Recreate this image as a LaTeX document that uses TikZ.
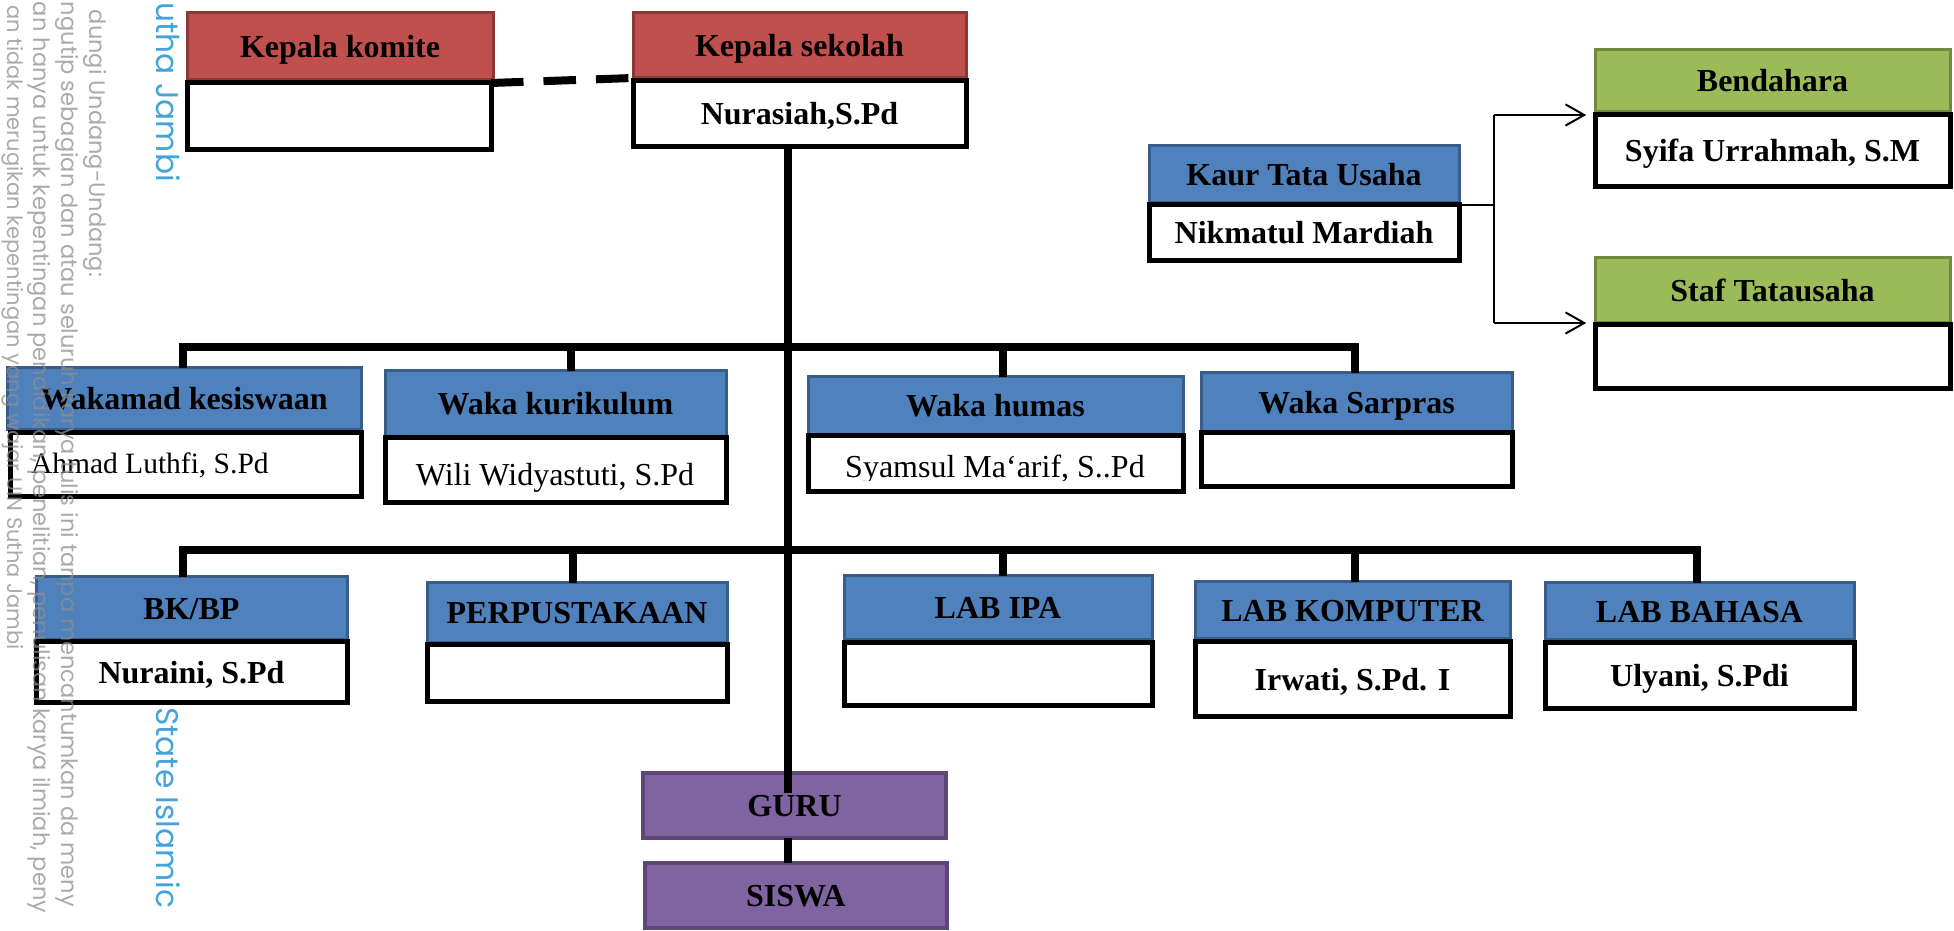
\documentclass[tikz,border=0pt]{standalone}
\usepackage{fontspec}
\setmainfont{Liberation Serif}
\newfontfamily\wmfont{Poppins}
\usetikzlibrary{arrows.meta}
\definecolor{redA}{HTML}{C0504D}
\definecolor{redB}{HTML}{8C3836}
\definecolor{blueA}{HTML}{4F81BD}
\definecolor{blueB}{HTML}{385D8A}
\definecolor{greenA}{HTML}{9BBB59}
\definecolor{greenB}{HTML}{71893F}
\definecolor{purpA}{HTML}{8064A2}
\definecolor{purpB}{HTML}{5C4776}
\definecolor{wmgray}{HTML}{8E8E8E}
\definecolor{wmblue}{HTML}{2F9AD8}
\newcommand\hdfont{\fontsize{12.8pt}{15pt}\selectfont\bfseries}
\newcommand\nmfont{\fontsize{12.8pt}{15pt}\selectfont}
\begin{document}
\begin{tikzpicture}[x=0.4pt,y=-0.4pt,
  every node/.style={inner sep=0pt,outer sep=0pt},
  bx/.code n args={4}{%
    \pgfmathsetmacro\bxw{(#3-#1)*0.4}%
    \pgfmathsetmacro\bxh{(#4-#2)*0.4}%
    \pgfmathsetmacro\bxcx{(#1+#3)/2}%
    \pgfmathsetmacro\bxcy{(#2+#4)/2}%
    \pgfkeysalso{/tikz/at={(\bxcx,\bxcy)},/tikz/minimum width=\bxw pt,/tikz/minimum height=\bxh pt,/tikz/text height=8.5pt,/tikz/text depth=0pt}},
  redhd/.style={fill=redA,draw=redB,line width=1.2pt,font=\hdfont},
  bluehd/.style={fill=blueA,draw=blueB,line width=1.2pt,font=\hdfont},
  greenhd/.style={fill=greenA,draw=greenB,line width=1.2pt,font=\hdfont},
  purpbox/.style={fill=purpA,draw=purpB,line width=1.6pt,font=\hdfont},
  wbold/.style={fill=white,draw=black,line width=2pt,font=\hdfont},
  wreg/.style={fill=white,draw=black,line width=2pt,font=\nmfont},
  conn/.style={line width=3.2pt,black},
  dashconn/.style={line width=3.2pt,black,dash pattern=on 13pt off 8pt},
  thinconn/.style={line width=0.8pt,black},
  arrowconn/.style={line width=0.8pt,black,-{Straight Barb[length=7.5pt,width=8.5pt,line width=0.8pt]}},
  wm/.style={font=\wmfont\fontsize{9pt}{10pt}\selectfont,text=wmgray,rotate=-90,opacity=0.75},
  wmb/.style={font=\wmfont\fontsize{12.5pt}{14pt}\selectfont,text=wmblue,rotate=-90,opacity=0.9}
]
\useasboundingbox (0,0) rectangle (1954,931);

% top: kepala komite / kepala sekolah
\node[bx={187}{13}{493}{80},redhd] (komH) {Kepala komite};
\node[bx={187}{83}{491}{150},wbold] (komB) {};
\node[bx={633}{13}{966}{78},redhd] (ksH) {Kepala sekolah};
\node[bx={633}{81}{966}{147},wbold] (ksB) {Nurasiah,S.Pd};

% tata usaha
\node[bx={1149}{146}{1459}{203},bluehd] (kaurH) {Kaur Tata Usaha};
\node[bx={1149}{205}{1459}{261},wbold] (kaurB) {Nikmatul Mardiah};
\node[bx={1595}{50}{1950}{112},greenhd] (bendH) {Bendahara};
\node[bx={1595}{115}{1950}{187},wbold] (bendB) {Syifa Urrahmah, S.M};
\node[bx={1595}{258}{1950}{323},greenhd] (stafH) {Staf Tatausaha};
\node[bx={1595}{325}{1950}{389},wbold] (stafB) {};

% waka row
\node[bx={7}{368}{361}{430},bluehd] (kesH) {Wakamad kesiswaan};
\node[bx={10}{433}{361}{497},wreg] (kesB) {};
\node[anchor=base west,font=\fontsize{11.8pt}{14pt}\selectfont] (kesT) at (31,474) {Ahmad Luthfi, S.Pd};
\node[bx={385}{371}{726}{437},bluehd] (kurH) {Waka kurikulum};
\node[bx={385}{438}{726}{503},wreg] (kurB) {};
\node[anchor=base,font=\nmfont] (kurT) at (555,486) {Wili Widyastuti, S.Pd};
\node[bx={808}{377}{1183}{435},bluehd] (humH) {Waka humas};
\node[bx={808}{436}{1183}{492},wreg] (humB) {};
\begin{scope}
\clip (810,438) rectangle (1181,480.5);
\node[anchor=base,font=\nmfont] (humT) at (995,478) {Syamsul Ma\symbol{96}arif, S..Pd};
\end{scope}
\draw[line width=2pt] (humB.south west) rectangle (humB.north east);
\node[bx={1201}{373}{1512}{432},bluehd] (sarH) {Waka Sarpras};
\node[bx={1201}{433}{1512}{487},wreg] (sarB) {};

% unit row
\node[bx={36}{577}{347}{640},bluehd] (bkH) {BK/BP};
\node[bx={36}{642}{347}{703},wbold] (bkB) {Nuraini, S.Pd};
\node[bx={427}{583}{727}{643},bluehd] (perH) {PERPUSTAKAAN};
\node[bx={427}{645}{727}{702},wbold] (perB) {};
\node[bx={844}{576}{1152}{640},bluehd] (ipaH) {LAB IPA};
\node[bx={844}{643}{1152}{706},wbold] (ipaB) {};
\node[bx={1195}{582}{1510}{639},bluehd] (kmpH) {LAB KOMPUTER};
\node[bx={1195}{642}{1510}{717},wbold] (kmpB) {Irwati, S.Pd. I};
\node[bx={1545}{583}{1854}{640},bluehd] (bhsH) {LAB BAHASA};
\node[bx={1545}{643}{1854}{709},wbold] (bhsB) {Ulyani, S.Pdi};

% guru / siswa
\node[bx={643}{773}{946}{838},purpbox] (guru) {GURU};
\node[bx={645}{863}{947}{928},purpbox] (siswa) {SISWA};

% connectors
\draw[dashconn] (komB.north east) -- (ksH.south west);
\coordinate (tk) at (788,793);
\draw[conn] (tk |- ksB.south) -- (tk);
\draw[conn] (tk |- guru.south) -- (tk |- siswa.north);

\coordinate (a1) at (183,347);
\coordinate (a4) at (1355,347);
\draw[conn] (a1 |- kesH.north) -- (a1) -- (a4) -- (a4 |- sarH.north);
\coordinate (a2) at (571,347);
\coordinate (a3) at (1003,347);
\draw[conn] (a2) -- (a2 |- kurH.north);
\draw[conn] (a3) -- (a3 |- humH.north);

\coordinate (b1) at (183,550);
\coordinate (b5) at (1697,550);
\draw[conn] (b1 |- bkH.north) -- (b1) -- (b5) -- (b5 |- bhsH.north);
\coordinate (b2) at (573,550);
\coordinate (b3) at (1003,550);
\coordinate (b4) at (1355,550);
\draw[conn] (b2) -- (b2 |- perH.north);
\draw[conn] (b3) -- (b3 |- ipaH.north);
\draw[conn] (b4) -- (b4 |- kmpH.north);

\coordinate (kj) at (1494,205);
\draw[thinconn] (kaurB.north east) -- (kj);
\draw[thinconn] (kj |- bendB.north) -- (kj |- stafH.south);
\draw[arrowconn] (kj |- bendB.north) -- ([xshift=-3.5pt]bendB.north west);
\draw[arrowconn] (kj |- stafH.south) -- ([xshift=-3.5pt]stafH.south west);

% watermark
\begin{scope}
\clip (0,0) rectangle (1954,931);
\node[wm,anchor=base east] (wm1) at (89,277) {dungi Undang-Undang:};
\node[wm,anchor=base west] (wm2) at (62,2) {ngutip sebagian dan atau seluruh karya tulis ini tanpa mencantumkan da meny};
\node[wm,anchor=base west] (wm3) at (33,2) {an hanya untuk kepentingan pendidikan, penelitian, penulisan karya ilmiah, peny};
\node[wm,anchor=base east,font=\wmfont\fontsize{8.4pt}{10pt}\selectfont] (wm4) at (8,650) {an tidak merugikan kepentingan yang wajar UIN Sutha Jambi};
\node[wmb,anchor=base east] (wm5) at (156,182) {utha Jambi};
\node[wmb,anchor=base west] (wm6) at (156,707) {State Islamic};
\end{scope}
\end{tikzpicture}
\end{document}
